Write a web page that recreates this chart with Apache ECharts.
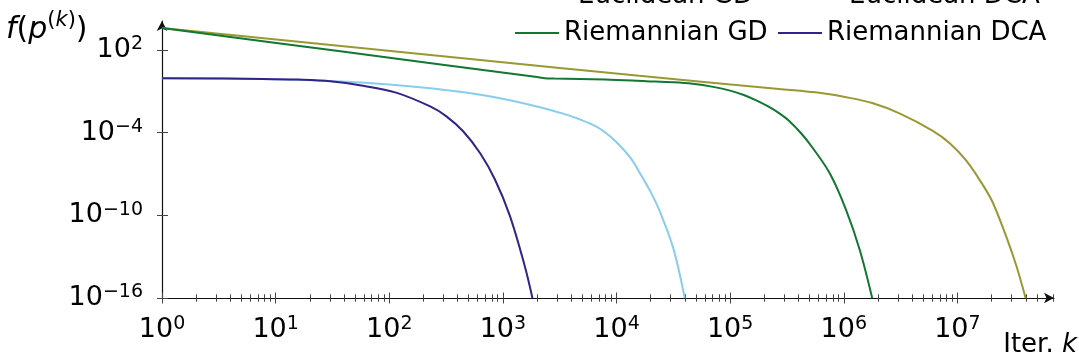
<!DOCTYPE html>
<html>
<head>
<meta charset="utf-8">
<script src="https://cdn.jsdelivr.net/npm/echarts@6/dist/echarts.min.js"></script>
<style>
  html, body { margin: 0; padding: 0; background: #fff; }
  #chart { width: 1079px; height: 363px; }
</style>
</head>
<body>
<div id="chart"></div>
<script>
const FONT = 'DejaVu Sans'

const seriesNames = ['Euclidean GD', 'Euclidean DCA', 'Riemannian GD', 'Riemannian DCA']
const seriesColors = ['#999933', '#88CCEE', '#117733', '#332288']

// log10 of iteration k and log10 of f(p^(k))
const eucGdLogK = [0, 1.4, 2.8, 4.2, 5.43, 5.8, 6.0, 6.25, 6.49, 6.78, 6.93, 7.08, 7.22, 7.31, 7.43, 7.52, 7.6]
const eucGdLogF = [3.6, 2.43, 1.27, 0.12, -0.83, -1.13, -1.4, -1.85, -2.6, -3.85, -4.75, -6.05, -7.75, -9.05, -11.55, -13.7, -16]

const eucDcaLogK = [0, 0.6, 1.0, 1.48, 2.0, 2.36, 2.8, 3.2, 3.53, 3.68, 3.82, 3.91, 4.0, 4.12, 4.2, 4.3, 4.38, 4.5, 4.6]
const eucDcaLogF = [-0.05, -0.08, -0.12, -0.25, -0.5, -0.78, -1.25, -1.9, -2.62, -3.05, -3.55, -4.05, -4.7, -5.8, -6.85, -8.3, -9.7, -12.4, -16]

const rieGdLogK = [0, 1.57, 3.3, 3.37, 3.45, 3.9, 4.26, 4.5, 4.67, 4.85, 5.0, 5.12, 5.23, 5.33, 5.43, 5.52, 5.63, 5.73, 5.88, 6.02, 6.14, 6.25]
const rieGdLogF = [3.6, 1.9, 0.03, -0.05, -0.07, -0.15, -0.27, -0.35, -0.46, -0.68, -0.95, -1.27, -1.66, -2.08, -2.58, -3.15, -4.1, -5.15, -7.0, -9.6, -12.5, -16]

const rieDcaLogK = [0, 0.89, 1.2, 1.48, 1.77, 2.06, 2.36, 2.5, 2.65, 2.8, 2.93, 3.06, 3.19, 3.26]
const rieDcaLogF = [-0.05, -0.1, -0.15, -0.27, -0.6, -1.1, -2.1, -2.8, -3.9, -5.5, -7.4, -10.0, -13.6, -16]

const xDecades = [0, 1, 2, 3, 4, 5, 6, 7]
const yDecades = [-16, -10, -4, 2]
const xMax = 7.85
const yMin = -16
const yMax = 4.1

const xMinor = []
xDecades.forEach((d) => {
  for (let m = 2; m < 10; m++) {
    const v = d + Math.log10(m)
    if (v <= xMax) xMinor.push(v)
  }
})

const pow10 = (v) => '{b|10}{s|' + String(v).replace('-', '\u2212') + '}'
const labelRich = {
  b: { fontFamily: FONT, fontSize: 27, lineHeight: 30, color: '#000' },
  s: { fontFamily: FONT, fontSize: 19, lineHeight: 17, verticalAlign: 'top', color: '#000' }
}
const tickStyle = { color: '#444', width: 1 }
const arrowLine = {
  show: true,
  onZero: false,
  symbol: ['none', 'arrow'],
  symbolSize: [8, 10],
  lineStyle: { color: '#111', width: 1.2 }
}

const xBase = {
  type: 'value',
  min: 0,
  max: xMax,
  position: 'bottom',
  splitLine: { show: false },
  axisLabel: { show: false },
  axisLine: { show: false, onZero: false }
}
const yBase = {
  type: 'value',
  min: yMin,
  max: yMax,
  position: 'left',
  splitLine: { show: false },
  axisLabel: { show: false },
  axisLine: { show: false, onZero: false }
}

const pairs = (xs, ys) => xs.map((x, i) => [x, ys[i]])
const lines = [
  pairs(eucGdLogK, eucGdLogF),
  pairs(eucDcaLogK, eucDcaLogF),
  pairs(rieGdLogK, rieGdLogF),
  pairs(rieDcaLogK, rieDcaLogF)
]

const legendAt = (name, left, top) => ({
  data: [name],
  left,
  top,
  padding: 0,
  icon: 'rect',
  itemWidth: 44,
  itemHeight: 2,
  selectedMode: false,
  textStyle: { fontFamily: FONT, fontSize: 26, color: '#000', lineHeight: 30 }
})

const chart = echarts.init(document.getElementById('chart'))
chart.setOption({
  animation: false,
  backgroundColor: '#fff',
  grid: { left: 162, right: 25, top: 21, bottom: 65, containLabel: false, outerBoundsMode: 'none' },
  legend: [
    legendAt('Euclidean GD', 529, -19),
    legendAt('Euclidean DCA', 800, -19),
    legendAt('Riemannian GD', 515, 18),
    legendAt('Riemannian DCA', 778, 18)
  ],
  xAxis: [
    {
      ...xBase,
      axisLine: arrowLine,
      axisTick: { customValues: xDecades, length: 5.5, lineStyle: tickStyle },
      axisLabel: { customValues: xDecades, formatter: pow10, rich: labelRich, margin: 17 }
    },
    { ...xBase, axisTick: { customValues: xDecades, inside: true, length: 5.5, lineStyle: tickStyle } },
    { ...xBase, axisTick: { customValues: xMinor, length: 3.7, lineStyle: tickStyle } },
    { ...xBase, axisTick: { customValues: xMinor, inside: true, length: 3.7, lineStyle: tickStyle } }
  ],
  yAxis: [
    {
      ...yBase,
      axisLine: arrowLine,
      axisTick: { customValues: yDecades, length: 5, lineStyle: tickStyle },
      axisLabel: { customValues: yDecades, formatter: pow10, rich: labelRich, margin: 19 }
    },
    { ...yBase, axisTick: { customValues: yDecades, inside: true, length: 6, lineStyle: tickStyle } }
  ],
  graphic: [
    {
      type: 'text',
      left: 6,
      top: 10,
      style: {
        text: '{i|f}{n|(}{i|p}{s|(}{si|k}{s|)}{n|)}',
        rich: {
          i: { fontFamily: FONT, fontSize: 30, fontStyle: 'italic', lineHeight: 35, verticalAlign: 'bottom', fill: '#000' },
          n: { fontFamily: FONT, fontSize: 30, lineHeight: 35, verticalAlign: 'bottom', fill: '#000' },
          s: { fontFamily: FONT, fontSize: 21, lineHeight: 22, verticalAlign: 'top', fill: '#000' },
          si: { fontFamily: FONT, fontSize: 21, fontStyle: 'italic', lineHeight: 22, verticalAlign: 'top', fill: '#000' }
        }
      }
    },
    {
      type: 'text',
      right: 2,
      top: 332,
      style: {
        text: '{n|Iter. }{i|k}',
        rich: {
          n: { fontFamily: FONT, fontSize: 26, lineHeight: 30, fill: '#000' },
          i: { fontFamily: FONT, fontSize: 26, fontStyle: 'italic', lineHeight: 30, fill: '#000' }
        }
      }
    }
  ],
  series: lines.map((data, i) => ({
    name: seriesNames[i],
    type: 'line',
    data,
    xAxisIndex: 0,
    yAxisIndex: 0,
    symbol: 'none',
    smooth: 0.35,
    color: seriesColors[i],
    lineStyle: { color: seriesColors[i], width: 2 }
  }))
})
</script>
</body>
</html>
